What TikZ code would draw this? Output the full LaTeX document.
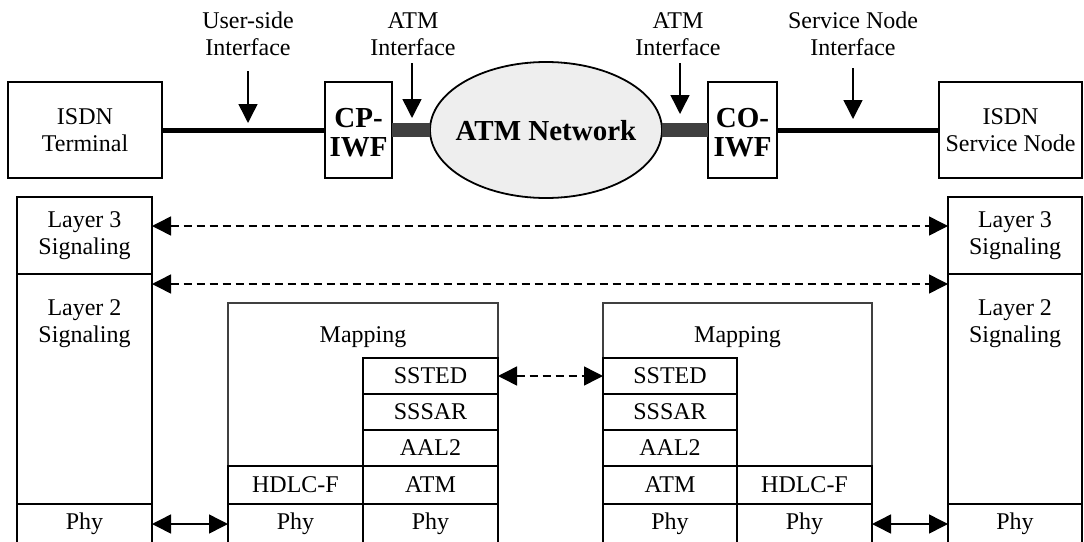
\documentclass[tikz,border=0pt]{standalone}
\usepackage{fontspec}
\setmainfont{Liberation Serif}
\usetikzlibrary{arrows.meta,shapes.geometric}
\definecolor{barcol}{HTML}{404040}
\definecolor{cloudfill}{HTML}{EEEEEE}
\begin{document}
\begin{tikzpicture}[x=1pt,y=-1pt,
  txt/.style={font=\fontsize{24}{27.5}\selectfont, align=center, inner sep=0pt},
  boldtxt/.style={font=\fontsize{29}{29}\selectfont\bfseries, align=center, inner sep=0pt},
  topbox/.style={draw, line width=1.3pt, anchor=north west, inner sep=0pt, outer sep=0pt, minimum height=96pt, txt},
  stackbox/.style={draw, line width=2.4pt, anchor=north west, inner sep=0pt, outer sep=0pt, txt},
  mapbox/.style={draw=black!75, line width=1.2pt, anchor=north west, inner sep=0pt, outer sep=0pt},
  tip/.style={-{Triangle[length=19pt,width=19pt]}, line width=1.5pt},
  twotip/.style={{Triangle[length=19pt,width=19pt]}-{Triangle[length=19pt,width=19pt]}, line width=1.5pt},
  dashline/.style={twotip, dash pattern=on 8pt off 5pt},
]
\useasboundingbox (0,0) rectangle (1084,541);
\clip (0,0) rectangle (1084,541);

% ---- end-to-end reference configuration ----
\node[topbox, minimum width=154pt] (term) at (8,82) {ISDN\\Terminal};
\node[topbox, minimum width=67pt] (cp) at (325,82) {};
\node[boldtxt] at (358.5,133) {CP-\\IWF};
\node[ellipse, draw, fill=cloudfill, line width=1.8pt, minimum width=232pt, minimum height=136pt, inner sep=0pt, outer sep=0pt] (net) at (546,130) {};
\node[boldtxt] at (546,131) {ATM Network};
\node[topbox, minimum width=69pt] (co) at (708,82) {};
\node[boldtxt] at (742.5,133) {CO-\\IWF};
\node[topbox, minimum width=143pt] (sn) at (939,82) {ISDN\\Service Node};

\draw[line width=5pt] (term.east) -- (cp.west);
\draw[line width=14pt, barcol] (cp.east) -- (net.west);
\draw[line width=14pt, barcol] (net.east) -- (co.west);
\draw[line width=5pt] (co.east) -- (sn.west);

% interface markers
\node[txt] (ulab) at (248,34) {User-side\\Interface};
\node[txt] (alab1) at (413,34) {ATM\\Interface};
\node[txt] (alab2) at (678,34) {ATM\\Interface};
\node[txt] (slab) at (853,34) {Service Node\\Interface};
\coordinate (u1) at (248,71);  \coordinate (u2) at (248,123);
\coordinate (a1) at (412,63);  \coordinate (a2) at (412,118);
\coordinate (b1) at (680,63);  \coordinate (b2) at (680,114);
\coordinate (s1) at (853,68);  \coordinate (s2) at (853,119);
\draw[tip] (u1) -- (u2);
\draw[tip] (a1) -- (a2);
\draw[tip] (b1) -- (b2);
\draw[tip] (s1) -- (s2);

% ---- protocol stacks ----
% terminal side
\node[stackbox, minimum width=135pt, minimum height=77pt] (l3L) at (17,197) {Layer 3\\Signaling};
\node[stackbox, minimum width=135pt, minimum height=230pt] (l2L) at (17,274) {};
\node[txt, anchor=north] at (84.5,299) {Layer 2\\Signaling};
\node[stackbox, minimum width=135pt, minimum height=40pt] (phyL) at (17,504) {Phy};

% service node side
\node[stackbox, minimum width=134pt, minimum height=77pt] (l3R) at (948,197) {Layer 3\\Signaling};
\node[stackbox, minimum width=134pt, minimum height=230pt] (l2R) at (948,274) {};
\node[txt, anchor=north] at (1015,299) {Layer 2\\Signaling};
\node[stackbox, minimum width=134pt, minimum height=40pt] (phyR) at (948,504) {Phy};

% CP-IWF stack
\node[mapbox, minimum width=270pt, minimum height=241pt] (mapL) at (228,303) {};
\node[txt, anchor=base] at (363,342) {Mapping};
\node[stackbox, minimum width=135pt, minimum height=36pt] (sstedL) at (363,358) {SSTED};
\node[stackbox, minimum width=135pt, minimum height=36pt] (sssarL) at (363,394) {SSSAR};
\node[stackbox, minimum width=135pt, minimum height=36pt] (aalL) at (363,430) {AAL2};
\node[stackbox, minimum width=135pt, minimum height=38pt] (atmL) at (363,466) {ATM};
\node[stackbox, minimum width=135pt, minimum height=40pt] (phyAL) at (363,504) {Phy};
\node[stackbox, minimum width=135pt, minimum height=38pt] (hdlcL) at (228,466) {HDLC-F};
\node[stackbox, minimum width=135pt, minimum height=40pt] (phyHL) at (228,504) {Phy};

% CO-IWF stack
\node[mapbox, minimum width=269pt, minimum height=241pt] (mapR) at (603,303) {};
\node[txt, anchor=base] at (737.5,342) {Mapping};
\node[stackbox, minimum width=134pt, minimum height=36pt] (sstedR) at (603,358) {SSTED};
\node[stackbox, minimum width=134pt, minimum height=36pt] (sssarR) at (603,394) {SSSAR};
\node[stackbox, minimum width=134pt, minimum height=36pt] (aalR) at (603,430) {AAL2};
\node[stackbox, minimum width=134pt, minimum height=38pt] (atmR) at (603,466) {ATM};
\node[stackbox, minimum width=134pt, minimum height=40pt] (phyAR) at (603,504) {Phy};
\node[stackbox, minimum width=135pt, minimum height=38pt] (hdlcR) at (737,466) {HDLC-F};
\node[stackbox, minimum width=135pt, minimum height=40pt] (phyHR) at (737,504) {Phy};

% peer relations
\draw[dashline] ([yshift=-29pt]l3L.north east) -- ([yshift=-29pt]l3R.north west);
\draw[dashline] ([yshift=-10pt]l2L.north east) -- ([yshift=-10pt]l2R.north west);
\draw[dashline] (sstedL.east) -- (sstedR.west);
\draw[twotip] (phyL.east) -- (phyHL.west);
\draw[twotip] (phyHR.east) -- (phyR.west);
\end{tikzpicture}
\end{document}
